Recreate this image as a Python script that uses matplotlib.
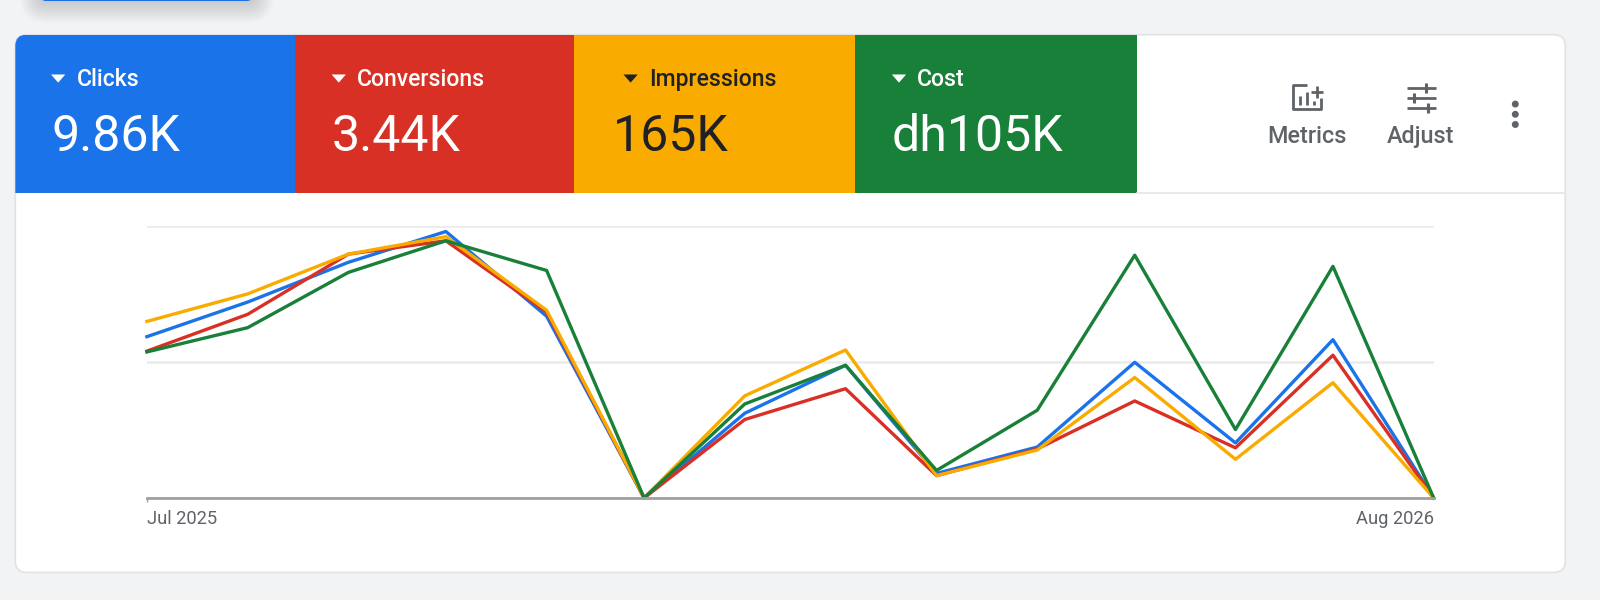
import matplotlib
matplotlib.use('Agg')
import matplotlib.pyplot as plt
import pandas as pd
from matplotlib.patches import FancyBboxPatch, Rectangle, Polygon, Circle

plt.rcParams['font.family'] = ['Roboto', 'DejaVu Sans']

# Chart data (top gridline = 100)
months = pd.date_range('2025-07-01', '2026-08-01', freq='MS')
clicks = [59.2, 71.9, 86.5, 97.8, 66.7, 0, 31.1, 48.7, 9.0, 18.7, 49.8, 20.2, 58.1, 0]
conversions = [53.9, 67.4, 89.5, 94.4, 68.2, 0, 28.8, 40.1, 8.2, 18.0, 35.6, 18.4, 52.4, 0]
impressions = [64.8, 74.9, 89.5, 95.9, 68.9, 0, 37.5, 54.3, 8.2, 17.6, 44.2, 14.2, 42.3, 0]
cost = [53.6, 62.5, 82.8, 94.4, 83.5, 0, 34.5, 48.7, 10.1, 32.2, 89.1, 25.1, 85.0, 0]

metric_names = ['Clicks', 'Conversions', 'Impressions', 'Cost']
metric_totals = ['9.86K', '3.44K', '165K', 'dh105K']
metric_colors = ['#1a73e8', '#d93025', '#f9ab00', '#188038']
metric_text = ['white', 'white', '#202124', 'white']
tile_edges = [15, 289, 563, 838, 1114]
total_left = [50, 325, 601, 874]
label_left = [50, 325, 611, 874]
x_labels = ['Jul 2025', 'Aug 2026']

W, H = 1568, 588
GREY = '#5f6368'

fig = plt.figure(figsize=(16, 6), dpi=100, facecolor='#f1f3f4')

# Page layer, in picture pixels
bg = fig.add_axes([0, 0, 1, 1])
bg.set_xlim(0, W)
bg.set_ylim(H, 0)
bg.axis('off')

# Button cut off at the top, with its soft shadow
for grow in range(22, 0, -2):
    bg.add_patch(FancyBboxPatch((42 - grow, -30), 204 + 2 * grow, 30 + grow,
                                boxstyle='round,pad=0,rounding_size=%d' % (grow + 3),
                                fc='#3c4043', ec='none', alpha=0.018))
bg.add_patch(FancyBboxPatch((40, -20), 207, 21, boxstyle='round,pad=0,rounding_size=5',
                            fc='#1a73e8', ec='none'))

# Card
card = FancyBboxPatch((15, 34), 1519, 527, boxstyle='round,pad=0,rounding_size=11',
                      fc='white', ec='#e0e2e5', lw=1.2)
bg.add_patch(card)

# Metric tiles
for i, name in enumerate(metric_names):
    tile = Rectangle((tile_edges[i], 34), tile_edges[i + 1] - tile_edges[i], 155,
                     fc=metric_colors[i], ec='none')
    bg.add_patch(tile)
    tile.set_clip_path(card)
    left = label_left[i]
    bg.add_patch(Polygon([(left, 73), (left + 14, 73), (left + 7, 81)], fc=metric_text[i], ec='none'))
    bg.text(left + 25, 77.5, name, color=metric_text[i], fontsize=16.6, va='center', ha='left',
            fontweight='medium')
    bg.text(total_left[i], 134.5, metric_totals[i], color=metric_text[i], fontsize=36, va='center', ha='left')

bg.plot([1114, 1534], [189.5, 189.5], color='#e3e5e8', lw=1.2)

# Metrics icon
bg.plot([1281, 1267, 1267, 1295, 1295], [83, 83, 107, 107, 96], color=GREY, lw=2, solid_capstyle='butt')
for bar_x, bar_top in [(1274, 94), (1281, 90), (1288, 99)]:
    bg.plot([bar_x, bar_x], [bar_top, 103], color=GREY, lw=2, solid_capstyle='butt')
bg.plot([1285, 1297], [90, 90], color=GREY, lw=2, solid_capstyle='butt')
bg.plot([1291, 1291], [84, 96], color=GREY, lw=2, solid_capstyle='butt')

# Adjust icon
for y0, x0, x1, knob in [(86, 1379, 1407, 1397), (96, 1379, 1407, 1386), (106, 1379, 1407, 1399)]:
    bg.plot([x0, x1], [y0, y0], color=GREY, lw=2, solid_capstyle='butt')
    bg.add_patch(Rectangle((knob - 3.5, y0 - 5), 7, 10, fc='white', ec='none'))
    bg.plot([knob, knob], [y0 - 5, y0 + 5], color=GREY, lw=2.2, solid_capstyle='butt')

bg.text(1280.5, 134, 'Metrics', color=GREY, fontsize=16.8, ha='center', va='center', fontweight='medium')
bg.text(1392, 134, 'Adjust', color=GREY, fontsize=16.8, ha='center', va='center', fontweight='medium')

# Three dots menu
for dot_y in [102, 112, 122]:
    bg.add_patch(Circle((1485, dot_y), 3.4, fc=GREY, ec='none'))

# Line chart
ax = fig.add_axes([144 / W, 1 - 488 / H, (1405 - 144) / W, (488 - 221) / H])
ax.patch.set_alpha(0)
ax.plot(months, clicks, color=metric_colors[0], lw=2.4, clip_on=False)
ax.plot(months, conversions, color=metric_colors[1], lw=2.4, clip_on=False)
ax.plot(months, impressions, color=metric_colors[2], lw=2.4, clip_on=False)
ax.plot(months, cost, color=metric_colors[3], lw=2.4, clip_on=False)
ax.set_xlim(months[0], months[-1])
ax.set_ylim(0, 100)
ax.set_yticks([0, 50, 100])
ax.set_yticklabels([])
ax.set_xticks([months[0], months[-1]])
ax.set_xticklabels(x_labels, fontsize=13.2, color=GREY)
ax.get_xticklabels()[0].set_ha('left')
ax.get_xticklabels()[1].set_ha('right')
ax.xaxis.get_major_ticks()[1].tick1line.set_visible(False)
ax.tick_params(axis='y', length=0)
ax.tick_params(axis='x', length=3, width=1, color='#a0a0a0', pad=6)
ax.grid(axis='y', color='#ebebeb', lw=1.8)
ax.set_axisbelow(True)
for side in ['top', 'left', 'right']:
    ax.spines[side].set_visible(False)
ax.spines['bottom'].set_color('#a0a0a0')
ax.spines['bottom'].set_linewidth(2)

plt.savefig('out.png', dpi=100, facecolor=fig.get_facecolor())
